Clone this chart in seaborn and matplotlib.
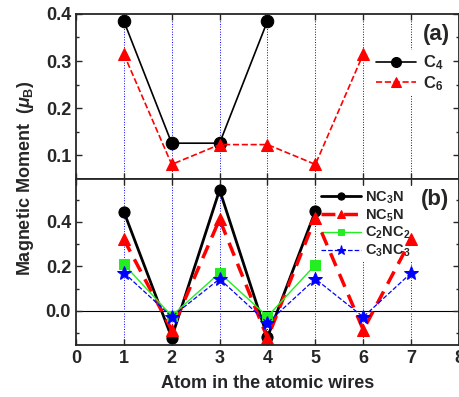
import numpy as np
import pandas as pd
import matplotlib
matplotlib.use("Agg")
import matplotlib.pyplot as plt
from matplotlib.ticker import MultipleLocator
import seaborn as sns

# panel (a) data
atoms_c4 = [1, 2, 3, 4]
c4 = [0.385, 0.126, 0.126, 0.385]
atoms_c6 = [1, 2, 3, 4, 5, 6]
c6 = [0.315, 0.081, 0.123, 0.123, 0.081, 0.315]

# panel (b) data
atoms_nc3n = [1, 2, 3, 4, 5]
nc3n = [0.447, -0.120, 0.544, -0.118, 0.449]
atoms_nc5n = [1, 2, 3, 4, 5, 6, 7]
nc5n = [0.322, -0.085, 0.412, -0.122, 0.419, -0.085, 0.322]
atoms_c2nc2 = [1, 2, 3, 4, 5]
c2nc2 = [0.210, -0.022, 0.171, -0.025, 0.208]
atoms_c3nc3 = [1, 2, 3, 4, 5, 6, 7]
c3nc3 = [0.172, -0.026, 0.144, -0.054, 0.144, -0.027, 0.171]

sns.set_style("ticks")
plt.rcParams['font.family'] = ['Liberation Sans', 'DejaVu Sans']
plt.rcParams['font.weight'] = 'bold'
plt.rcParams['axes.labelweight'] = 'bold'
plt.rcParams['mathtext.fontset'] = 'custom'
plt.rcParams['mathtext.rm'] = 'Liberation Sans:bold'
plt.rcParams['mathtext.bf'] = 'Liberation Sans:bold'
plt.rcParams['mathtext.it'] = 'Liberation Sans:italic:bold'

fig = plt.figure(figsize=(4.6, 3.97), dpi=100)
ax1 = fig.add_axes([0.165, 0.549, 0.833, 0.416])
ax2 = fig.add_axes([0.165, 0.131, 0.833, 0.418])

for ax in (ax1, ax2):
    for xv in range(1, 8):
        ax.axvline(xv, color='blue', linestyle=':', linewidth=0.7, zorder=0)
    ax.set_xlim(0, 8)
    ax.xaxis.set_major_locator(MultipleLocator(1))
    ax.tick_params(direction='in', which='both', top=True, right=True,
                   labelsize=13, width=1)
    ax.tick_params(which='major', length=4)
    ax.tick_params(which='minor', length=2.5)
    for s in ax.spines.values():
        s.set_linewidth(1.3)

sns.lineplot(x=atoms_c4, y=c4, ax=ax1, color='black', marker='o', markersize=9,
             linewidth=1.2, markeredgecolor='black', label='C$_4$')
sns.lineplot(x=atoms_c6, y=c6, ax=ax1, color='red', marker='^', markersize=9,
             linewidth=1.2, linestyle='--', markeredgecolor='red', label='C$_6$')
ax1.set_ylim(0.05, 0.4)
ax1.yaxis.set_major_locator(MultipleLocator(0.1))
ax1.yaxis.set_minor_locator(MultipleLocator(0.05))
ax1.tick_params(labelbottom=False)
leg1 = ax1.legend(loc='upper right', bbox_to_anchor=(0.99, 0.83), frameon=True,
                  facecolor='white', edgecolor='none', framealpha=1, fancybox=False,
                  fontsize=12, handlelength=2.4, borderpad=0.2, labelspacing=0.1,
                  markerscale=0.8, handletextpad=0.4)
leg1.set_zorder(1.5)
ax1.text(0.975, 0.94, '(a)', transform=ax1.transAxes, ha='right', va='top',
         fontsize=16, fontweight='bold')

sns.lineplot(x=atoms_nc3n, y=nc3n, ax=ax2, color='black', marker='o', markersize=8,
             linewidth=2, markeredgecolor='black', label='NC$_3$N')
sns.lineplot(x=atoms_nc5n, y=nc5n, ax=ax2, color='red', marker='^', markersize=9,
             linewidth=2.5, linestyle=(0, (4, 2.5)), markeredgecolor='red', label='NC$_5$N')
sns.lineplot(x=atoms_c2nc2, y=c2nc2, ax=ax2, color='#22ee22', marker='s', markersize=7,
             linewidth=1, markeredgecolor='#22ee22', label='C$_2$NC$_2$')
sns.lineplot(x=atoms_c3nc3, y=c3nc3, ax=ax2, color='blue', marker='*', markersize=10,
             linewidth=0.9, linestyle='--', markeredgecolor='blue', label='C$_3$NC$_3$')
ax2.axhline(0, color='black', linewidth=0.8, zorder=0)
ax2.set_ylim(-0.153, 0.593)
ax2.yaxis.set_major_locator(MultipleLocator(0.2))
ax2.yaxis.set_minor_locator(MultipleLocator(0.1))
leg2 = ax2.legend(loc='upper right', bbox_to_anchor=(0.9, 1.0), frameon=True,
                  facecolor='white', edgecolor='none', framealpha=1, fancybox=False,
                  fontsize=10.5, handlelength=2.7, borderpad=0.2, labelspacing=0.1,
                  handletextpad=0.3, markerscale=0.65)
leg2.set_zorder(1.5)
ax2.text(0.975, 0.94, '(b)', transform=ax2.transAxes, ha='right', va='top',
         fontsize=16, fontweight='bold')
ax2.set_xlabel('Atom in the atomic wires', fontsize=13, fontweight='bold', labelpad=6)

fig.text(0.055, 0.55, r'Magnetic Moment  ($\mu_{\mathrm{B}}$)', rotation=90,
         ha='center', va='center', fontsize=13, fontweight='bold')

fig.savefig('out.png', dpi=100)
